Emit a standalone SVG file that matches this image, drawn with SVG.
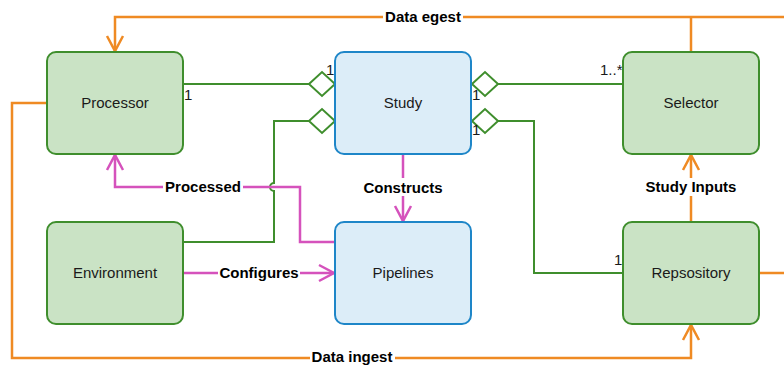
<svg xmlns="http://www.w3.org/2000/svg" width="784" height="367" viewBox="0 0 784 367">
<style>
.g rect{fill:#cae3c5;stroke:#3f8e2d;stroke-width:2}
.b rect{fill:#dcedf8;stroke:#1e86c8;stroke-width:2}
.nt{font-family:"Liberation Sans",Arial,sans-serif;font-size:15px;fill:#1a1a1a;text-anchor:middle;dominant-baseline:central}
.lb{font-family:"Liberation Sans",Arial,sans-serif;font-size:15px;font-weight:bold;fill:#000;text-anchor:middle;dominant-baseline:central}
.m{font-family:"Liberation Sans",Arial,sans-serif;font-size:15px;fill:#1a1a1a}
.gl{fill:none;stroke:#3f8e2d;stroke-width:2}
.ol{fill:none;stroke:#ef8a23;stroke-width:2.5}
.pl{fill:none;stroke:#d552bc;stroke-width:2.5}
.dm{fill:#fff;stroke:#3f8e2d;stroke-width:2}
.bg{fill:#fff}
</style>
<defs>
<marker id="ao" markerUnits="userSpaceOnUse" markerWidth="24" markerHeight="24" viewBox="-18 -12 24 24" refX="0" refY="0" orient="auto"><path d="M-15,-8 L0,0 L-15,8" fill="none" stroke="#ef8a23" stroke-width="2.5"/></marker>
<marker id="ap" markerUnits="userSpaceOnUse" markerWidth="24" markerHeight="24" viewBox="-18 -12 24 24" refX="0" refY="0" orient="auto"><path d="M-15,-8 L0,0 L-15,8" fill="none" stroke="#d552bc" stroke-width="2.5"/></marker>
</defs>
<g id="connectors">
<path class="ol" d="M784 17 H115 V51" marker-end="url(#ao)"/>
<path class="ol" d="M691 52 V17"/>
<path class="ol" d="M47 103 H12 V358 H691 V325" marker-end="url(#ao)"/>
<path class="ol" d="M759 273 H784"/>
<path class="ol" d="M691 222 V155" marker-end="url(#ao)"/>
<path class="gl" d="M184 84 H309"/>
<path class="gl" d="M184 242 H274 V191 A4 4 0 0 1 274 183 V121 H309"/>
<path class="gl" d="M498 84 H623"/>
<path class="gl" d="M498 121 H534 V273 H623"/>
<polygon class="dm" points="309,84 322,72 335,84 322,96"/>
<polygon class="dm" points="309,121 322,109 335,121 322,133"/>
<polygon class="dm" points="472,84 485,72 498,84 485,96"/>
<polygon class="dm" points="472,121 485,109 498,121 485,133"/>
<path class="pl" d="M403 155 V221" marker-end="url(#ap)"/>
<path class="pl" d="M184 273 H334" marker-end="url(#ap)"/>
<path class="pl" d="M335 242 H300 V187 H115 V155" marker-end="url(#ap)"/>
<rect class="bg" x="383" y="8" width="80" height="18"/>
<text class="lb" x="423" y="16">Data egest</text>
<rect class="bg" x="363" y="178" width="80" height="18"/>
<text class="lb" x="403" y="187">Constructs</text>
<rect class="bg" x="163" y="178" width="80" height="18"/>
<text class="lb" x="203" y="186">Processed</text>
<rect class="bg" x="218" y="264" width="82" height="18"/>
<text class="lb" x="259" y="272">Configures</text>
<rect class="bg" x="643" y="178" width="96" height="18"/>
<text class="lb" x="691" y="186">Study Inputs</text>
<rect class="bg" x="310" y="348" width="85" height="18"/>
<text class="lb" x="352" y="356">Data ingest</text>
<text class="m" x="326" y="75">1</text>
<text class="m" x="184" y="100">1</text>
<text class="m" x="472" y="100">1</text>
<text class="m" x="472" y="135">1</text>
<text class="m" x="600" y="75">1..*</text>
<text class="m" x="614" y="265">1</text>
</g>
<g id="processor" class="g"><rect x="47" y="52" width="136" height="102" rx="9"/><text class="nt" x="115" y="102">Processor</text></g>
<g id="study" class="b"><rect x="335" y="52" width="136" height="102" rx="9"/><text class="nt" x="403" y="102">Study</text></g>
<g id="selector" class="g"><rect x="623" y="52" width="136" height="102" rx="9"/><text class="nt" x="691" y="102">Selector</text></g>
<g id="environment" class="g"><rect x="47" y="222" width="136" height="102" rx="9"/><text class="nt" x="115" y="272">Environment</text></g>
<g id="pipelines" class="b"><rect x="335" y="222" width="136" height="102" rx="9"/><text class="nt" x="403" y="272">Pipelines</text></g>
<g id="repository" class="g"><rect x="623" y="222" width="136" height="102" rx="9"/><text class="nt" x="691" y="272">Repsository</text></g>
</svg>
